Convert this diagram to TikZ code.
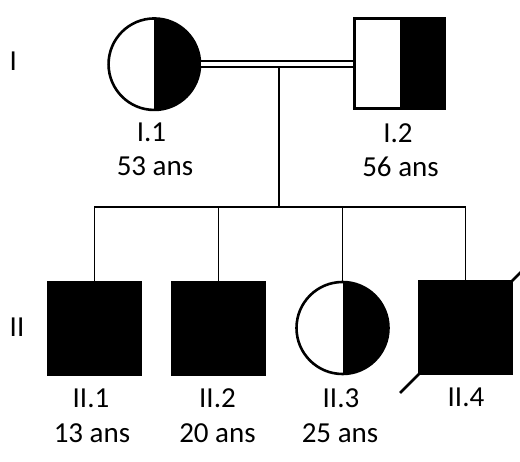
\documentclass[tikz,border=0pt]{standalone}
\usepackage{fontspec}
\setmainfont{Carlito}
\usetikzlibrary{calc}
\tikzset{
  halfblack/.style={path picture={\fill[black] (path picture bounding box.north) rectangle (path picture bounding box.south east);}},
  fem/.style={circle, draw, line width=2.6pt, inner sep=0pt, halfblack},
  malehalf/.style={rectangle, draw, line width=2.6pt, inner sep=0pt, halfblack},
  maleaff/.style={rectangle, draw, fill=black, line width=2.5pt, inner sep=0pt},
  lbl/.style={inner sep=0pt, anchor=base, font=\fontsize{29}{34}\selectfont},
  gen/.style={inner sep=0pt, anchor=west, font=\fontsize{29}{34}\selectfont},
  link/.style={line width=1.9pt},
}
\begin{document}
\begin{tikzpicture}[x=1pt, y=-1pt]
\useasboundingbox (0,0) rectangle (520,462);
\clip (0,0) rectangle (520,462);
% generation labels
\node[gen] (gI) at (9.5,61) {I};
\node[gen] (gII) at (9.5,327) {II};
% individuals
\node[fem, minimum size=91.5pt] (I1) at (154.3,64.2) {};
\node[malehalf, minimum size=90.5pt] (I2) at (399.5,63.5) {};
\node[maleaff, minimum size=92.5pt] (II1) at (94.5,329) {};
\node[maleaff, minimum size=92.5pt] (II2) at (218.5,329) {};
\node[fem, minimum size=92pt] (II3) at (342.5,328) {};
\node[maleaff, minimum size=92.5pt] (II4) at (465.5,327.5) {};
% labels
\node[lbl] (tI1a) at (151.5,142) {I.1};
\node[lbl] (tI1b) at (155,176) {53 ans};
\node[lbl] (tI2a) at (398,143) {I.2};
\node[lbl] (tI2b) at (400.5,177) {56 ans};
\node[lbl] (tII1a) at (91,408) {II.1};
\node[lbl] (tII1b) at (92,443) {13 ans};
\node[lbl] (tII2a) at (217.5,408) {II.2};
\node[lbl] (tII2b) at (217.5,443) {20 ans};
\node[lbl] (tII3a) at (341,408) {II.3};
\node[lbl] (tII3b) at (340,443) {25 ans};
\node[lbl] (tII4a) at (466,407) {II.4};
% connectors
\coordinate (mar) at (279,64);
\coordinate (sib) at (279,207);
\draw[link] (mar) -- (sib);
\draw[line width=2pt, double, double distance=4pt] (I1.east) -- (I1.east -| I2.west);
\draw[link] (II1.north) -- (II1.north |- sib) -- (II4.north |- sib) -- (II4.north);
\draw[link] (II2.north) -- (II2.north |- sib);
\draw[link] (II3.north) -- (II3.north |- sib);
% deceased mark
\draw[line width=2.8pt] ($(II4.south west)+(-18,18)$) -- ($(II4.north east)+(18,-18)$);
\end{tikzpicture}
\end{document}
